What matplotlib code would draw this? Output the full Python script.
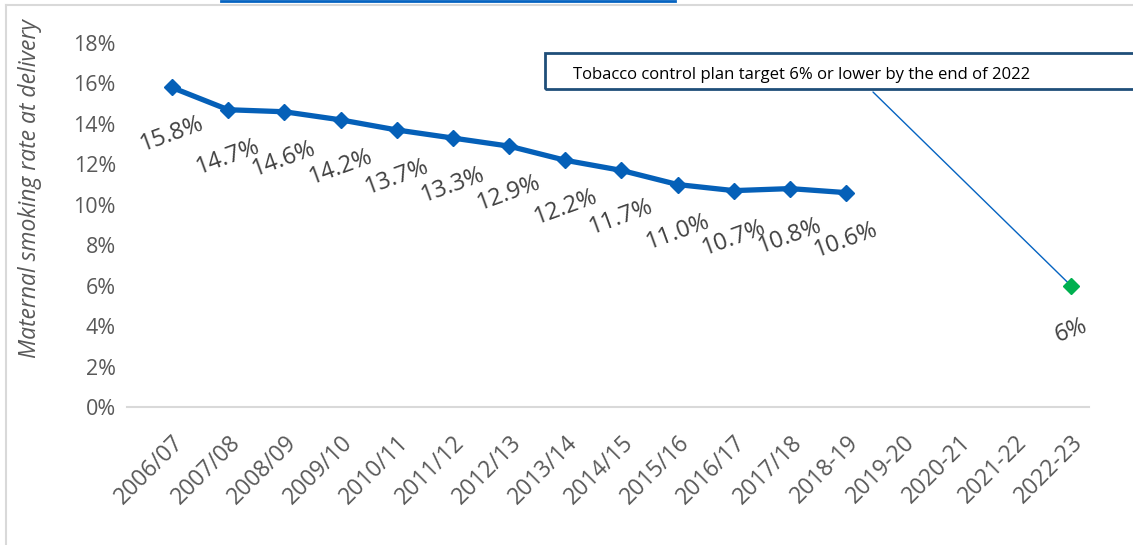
import numpy as np
import matplotlib
matplotlib.use('Agg')
import matplotlib.pyplot as plt
import matplotlib.transforms as mtrans
from matplotlib.patches import Rectangle
from matplotlib.lines import Line2D

plt.rcParams['font.family'] = ['Open Sans', 'DejaVu Sans']

# dados
anos = ['2006/07', '2007/08', '2008/09', '2009/10', '2010/11', '2011/12',
        '2012/13', '2013/14', '2014/15', '2015/16', '2016/17', '2017/18',
        '2018-19', '2019-20', '2020-21', '2021-22', '2022-23']
taxa = [15.8, 14.7, 14.6, 14.2, 13.7, 13.3, 12.9, 12.2, 11.7, 11.0, 10.7, 10.8, 10.6]
meta_idx = 16
meta = 6.0

W, H = 1133, 545
fig = plt.figure(figsize=(W / 100, H / 100), dpi=100)
ax = fig.add_axes([127 / W, 1 - 407 / H, (1089 - 127) / W, (407 - 43) / H])

azul = '#0560B8'
cinza = '#595959'

x = np.arange(len(taxa))
ax.plot(x, taxa, color=azul, lw=3.8, marker='D', ms=8, solid_capstyle='round', zorder=3)
ax.plot([meta_idx], [meta], ls='none', marker='D', ms=8, color='#00B050', zorder=4)

# rotulos dos pontos
for i, v in enumerate(taxa):
    ax.annotate(f'{v:.1f}%', (i, v), xytext=(0, -47), textcoords='offset pixels',
                ha='center', va='center', rotation=20, fontsize=17, color='#404040')
ax.annotate(f'{meta:.0f}%', (meta_idx, meta), xytext=(0, -45), textcoords='offset pixels',
            ha='center', va='center', rotation=20, fontsize=17, color='#404040')

ax.set_xlim(-0.8, 16.32)
ax.set_ylim(0, 18)
ax.set_yticks(np.arange(0, 19, 2))
ax.set_yticklabels([f'{t}%' for t in range(0, 19, 2)], fontsize=15.5, color=cinza)
ax.set_xticks(range(len(anos)))
ax.set_xticklabels(anos, rotation=45, ha='right', va='top', rotation_mode='anchor',
                   fontsize=16.5, color=cinza)
desloc = mtrans.ScaledTranslation(-40 / 100, 0, fig.dpi_scale_trans)
for lab in ax.get_xticklabels():
    lab.set_transform(lab.get_transform() + desloc)
ax.tick_params(length=0)
ax.tick_params(axis='y', pad=8)
ax.tick_params(axis='x', pad=17)
for s in ['top', 'right', 'left']:
    ax.spines[s].set_visible(False)
ax.spines['bottom'].set_color('#D9D9D9')
ax.spines['bottom'].set_linewidth(1.5)

fig.text(30 / W, 1 - 189 / H, 'Maternal smoking rate at delivery', rotation=90,
         ha='center', va='center', fontsize=16.5, style='italic', color=cinza)

# caixa da meta
fig.patches.append(Rectangle((545 / W, 1 - 89 / H), (W + 10 - 545) / W, 36 / H,
                             transform=fig.transFigure, fill=False,
                             edgecolor='#1F4E79', lw=2, clip_on=False))
fig.text(802 / W, 1 - 75 / H, 'Tobacco control plan target 6% or lower by the end of 2022',
         ha='center', va='center', fontsize=12, color='black')
ax.annotate('', xy=(meta_idx, meta), xycoords='data',
            xytext=(873 / W, 1 - 92 / H), textcoords='figure fraction',
            arrowprops=dict(arrowstyle='-', color='#0563C1', lw=1, shrinkA=0, shrinkB=0))

# bordas
fig.lines.append(Line2D([6 / W, 6 / W], [0, 1 - 5 / H], transform=fig.transFigure,
                        color='#D9D9D9', lw=1.5))
fig.lines.append(Line2D([6 / W, 1], [1 - 5 / H, 1 - 5 / H], transform=fig.transFigure,
                        color='#D9D9D9', lw=1.5))
fig.lines.append(Line2D([221 / W, 675 / W], [1 - 0.8 / H, 1 - 0.8 / H], transform=fig.transFigure,
                        color='#0563C1', lw=2))

fig.savefig('out.png', dpi=100)
